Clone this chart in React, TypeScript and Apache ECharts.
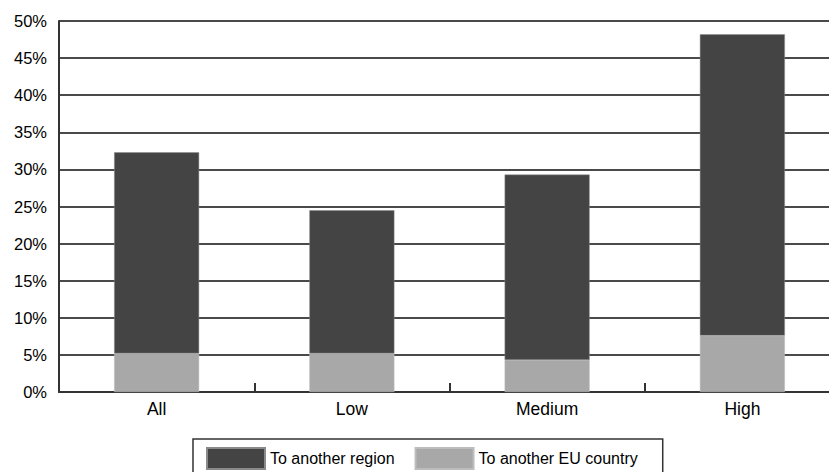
import React, { useEffect, useRef } from "react";
import * as echarts from "echarts";

const categories = ["All", "Low", "Medium", "High"];
const toAnotherEU = [5.2, 5.2, 4.3, 7.6];
const toAnotherRegion = [27.1, 19.3, 25.0, 40.6];
const seriesNames = ["To another region", "To another EU country"];

const FONT = "'Liberation Sans', Arial, sans-serif";

export default function App() {
  const ref = useRef<HTMLDivElement>(null);
  useEffect(() => {
    if (!ref.current) return;
    const chart = echarts.init(ref.current, undefined, { renderer: "svg" });
    chart.setOption({
      animation: false,
      backgroundColor: "#fff",
      textStyle: { fontFamily: FONT },
      grid: { left: 59, top: 21, right: 5, bottom: 80, containLabel: false },
      legend: {
        data: seriesNames,
        left: 193,
        top: 439,
        orient: "horizontal",
        itemWidth: 58,
        itemHeight: 21,
        itemGap: 20,
        padding: [8, 25, 12, 13],
        borderColor: "#333",
        borderWidth: 1.5,
        borderRadius: 0,
        icon: "rect",
        textStyle: { fontSize: 16, color: "#000", fontFamily: FONT },
      },
      xAxis: {
        type: "category",
        data: categories,
        axisLine: { show: true, lineStyle: { color: "#333", width: 2 } },
        axisTick: { show: true, inside: true, length: 9, lineStyle: { color: "#333", width: 2 } },
        axisLabel: { fontSize: 17.5, color: "#000", margin: 8, fontFamily: FONT },
      },
      yAxis: {
        type: "value",
        min: 0,
        max: 50,
        interval: 5,
        axisLine: { show: true, lineStyle: { color: "#333", width: 2 } },
        axisTick: { show: false },
        splitLine: { show: true, lineStyle: { color: "#4a4a4a", width: 2 } },
        axisLabel: { formatter: "{value}%", fontSize: 16.5, color: "#000", margin: 12, fontFamily: FONT },
      },
      series: [
        {
          name: seriesNames[1],
          type: "bar",
          stack: "total",
          data: toAnotherEU,
          barWidth: 85,
          itemStyle: { color: "#a8a8a8", borderColor: "#bdbdbd", borderWidth: 0.5 },
        },
        {
          name: seriesNames[0],
          type: "bar",
          stack: "total",
          data: toAnotherRegion,
          barWidth: 85,
          itemStyle: { color: "#444444", borderColor: "#8a8a8a", borderWidth: 0.5 },
        },
      ],
    });
    return () => chart.dispose();
  }, []);
  return (
    <div
      style={{ position: "fixed", left: 0, top: 0, width: 829, height: 472, overflow: "hidden", background: "#fff" }}
    >
      <div ref={ref} style={{ width: 845, height: 472 }} />
    </div>
  );
}
